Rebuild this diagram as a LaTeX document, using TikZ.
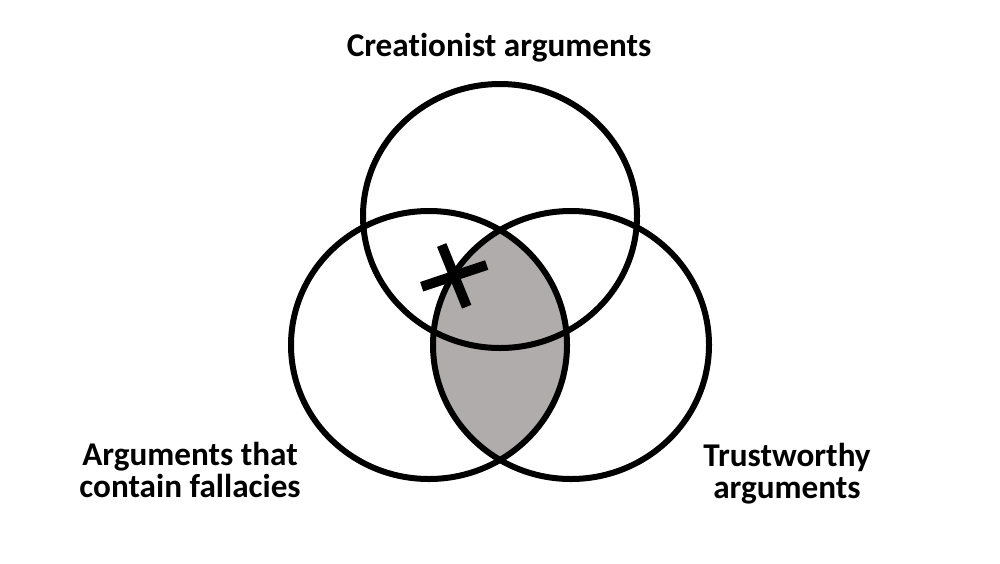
\documentclass[tikz,border=0pt]{standalone}
\usepackage{fontspec}
\setmainfont[Ligatures=NoCommon]{Carlito}
\definecolor{lensgray}{RGB}{176,172,171}
\begin{document}
\begin{tikzpicture}[x=1pt,y=-1pt,
  ring/.style={draw=black,line width=6pt},
  cross/.style={draw=black,line width=10pt,line cap=butt},
  lbl/.style={font=\bfseries\fontsize{33.2}{32}\selectfont,align=center,inner sep=0pt,anchor=base}]
\useasboundingbox (0,0) rectangle (1000,563);
\fill[white] (0,0) rectangle (1000,563);
\coordinate (ct) at (500,216);
\coordinate (cl) at (429,345);
\coordinate (cr) at (571,345);
\begin{scope}
  \clip (cl) ellipse [x radius=138pt,y radius=134pt];
  \fill[lensgray] (cr) ellipse [x radius=138pt,y radius=134pt];
\end{scope}
\draw[ring] (ct) ellipse [x radius=137pt,y radius=132pt];
\draw[ring] (cl) ellipse [x radius=138pt,y radius=134pt];
\draw[ring] (cr) ellipse [x radius=138pt,y radius=134pt];
\coordinate (xa1) at (421.7,286.7);
\coordinate (xa2) at (486.7,265);
\coordinate (xb1) at (441.7,245);
\coordinate (xb2) at (466.7,306.7);
\draw[cross] (xa1) -- (xa2);
\draw[cross] (xb1) -- (xb2);
\node[lbl] (top) at (499,56) {Creationist arguments};
\node[lbl] (left) at (190,497) {Arguments that\\contain fallacies};
\node[lbl] (right) at (787,498) {Trustworthy\\arguments};
\end{tikzpicture}
\end{document}
